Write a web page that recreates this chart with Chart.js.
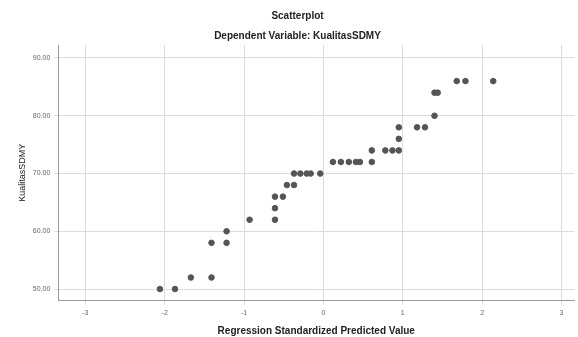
<!DOCTYPE html>
<html>
<head>
<meta charset="utf-8">
<script src="https://cdn.jsdelivr.net/npm/chart.js@4"></script>
<style>
  html, body { margin: 0; padding: 0; background: #fff; }
  #wrap { width: 578px; height: 337px; }
</style>
</head>
<body>
<div id="wrap"><canvas id="scatterChart"></canvas></div>
<script>
// predicted value (x) and KualitasSDMY (y)
const predicted = [-2.06, -1.87, -1.67, -1.41, -1.41, -1.22, -1.22, -0.93, -0.61, -0.61,
  -0.61, -0.51, -0.46, -0.37, -0.37, -0.29, -0.21, -0.16, -0.04, 0.12,
  0.22, 0.32, 0.41, 0.46, 0.61, 0.61, 0.78, 0.87, 0.95, 0.95,
  0.95, 1.18, 1.28, 1.40, 1.40, 1.44, 1.68, 1.79, 2.14];
const kualitas = [50, 50, 52, 52, 58, 58, 60, 62, 62, 64,
  66, 66, 68, 68, 70, 70, 70, 70, 70, 72,
  72, 72, 72, 72, 72, 74, 74, 74, 74, 76,
  78, 78, 78, 80, 84, 84, 86, 86, 86];
const xTicks = [-3, -2, -1, 0, 1, 2, 3];
const yTicks = [50, 60, 70, 80, 90];

const points = predicted.map((x, i) => ({ x: x, y: kualitas[i] }));
const font = 'Liberation Sans, Arial, sans-serif';

new Chart(document.getElementById('scatterChart').getContext('2d'), {
  type: 'scatter',
  data: {
    datasets: [{
      data: points,
      backgroundColor: '#555',
      borderColor: '#555',
      pointRadius: 2.8,
      pointHoverRadius: 2.8
    }]
  },
  options: {
    responsive: true,
    maintainAspectRatio: false,
    animation: false,
    layout: { padding: { top: 10, right: 0, bottom: 0, left: 17 } },
    plugins: {
      legend: { display: false },
      tooltip: { enabled: false },
      title: {
        display: true,
        text: 'Scatterplot',
        color: '#222',
        font: { family: font, size: 10, weight: 'bold' },
        padding: { top: 0, bottom: 8 }
      },
      subtitle: {
        display: true,
        text: 'Dependent Variable: KualitasSDMY',
        color: '#222',
        font: { family: font, size: 10, weight: 'bold' },
        padding: { top: 0, bottom: 3 }
      }
    },
    scales: {
      x: {
        type: 'linear',
        min: -3.34,
        max: 3.16,
        afterBuildTicks: axis => { axis.ticks = xTicks.map(v => ({ value: v })); },
        ticks: { color: '#666', font: { family: font, size: 7 }, padding: 4 },
        grid: { color: '#dcdcdc', drawTicks: true, tickLength: 4 },
        border: { color: '#999' },
        title: {
          display: true,
          text: 'Regression Standardized Predicted Value',
          color: '#222',
          font: { family: font, size: 10, weight: 'bold' },
          padding: { top: 4, bottom: 0 }
        }
      },
      y: {
        type: 'linear',
        min: 48,
        max: 92.25,
        afterBuildTicks: axis => { axis.ticks = yTicks.map(v => ({ value: v })); },
        ticks: {
          color: '#666',
          font: { family: font, size: 7 },
          padding: 4,
          callback: v => v.toFixed(2)
        },
        grid: { color: '#dcdcdc', drawTicks: true, tickLength: 4 },
        border: { color: '#999' },
        title: {
          display: true,
          text: 'KualitasSDMY',
          color: '#222',
          font: { family: font, size: 9 },
          padding: { top: 0, bottom: 1 }
        }
      }
    }
  }
});
</script>
</body>
</html>
